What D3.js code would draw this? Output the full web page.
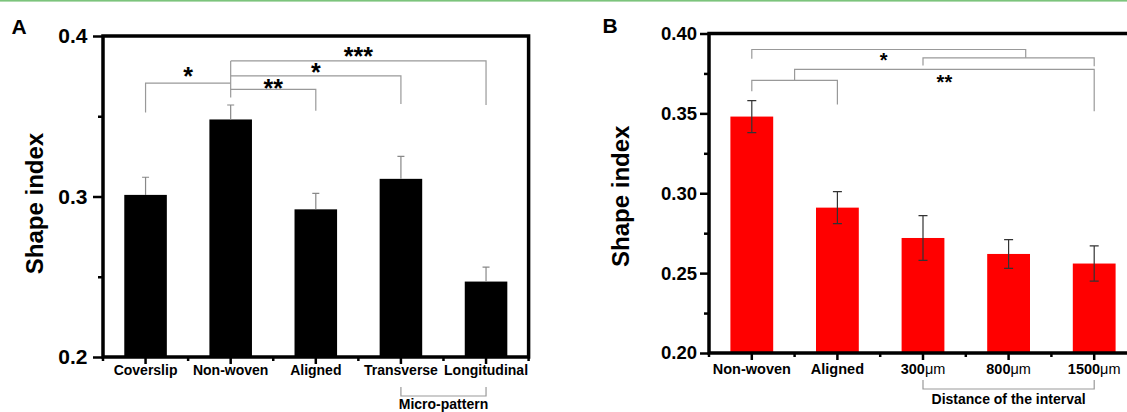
<!DOCTYPE html>
<html>
<head>
<meta charset="utf-8">
<script src="https://cdn.jsdelivr.net/npm/d3@7"></script>
<style>
  body { margin: 0; background: #fff; }
  svg { display: block; }
</style>
</head>
<body>
<div id="chart"></div>
<script>
// Painel A
const catsA = ["Coverslip", "Non-woven", "Aligned", "Transverse", "Longitudinal"];
const meanA = [0.301, 0.348, 0.292, 0.311, 0.247];
const errA = [0.011, 0.009, 0.010, 0.014, 0.009];
const ticksA = [0.2, 0.3, 0.4];
const minorA = [0.25, 0.35];

// Painel B
const catsB = ["Non-woven", "Aligned", "300μm", "800μm", "1500μm"];
const meanB = [0.348, 0.291, 0.272, 0.262, 0.256];
const errB = [0.010, 0.010, 0.014, 0.009, 0.011];
const ticksB = [0.20, 0.25, 0.30, 0.35, 0.40];
const minorB = [0.225, 0.275, 0.325, 0.375];

// significance brackets of A: all start at the Non-woven stem
const stemA = { at: "Non-woven", top: 0.3845, bottom: 0.3617 };
const sigA = [
  { to: "Coverslip", level: 0.3706, end: 0.3524, label: "*", labelAt: 0.3783 },
  { to: "Aligned", level: 0.3667, end: 0.3534, label: "**", labelAt: 0.3710 },
  { to: "Transverse", level: 0.3752, end: 0.3576, label: "*", labelAt: 0.3809 },
  { to: "Longitudinal", level: 0.3845, end: 0.3570, label: "***", labelAt: 0.3911 }
];

const FONT = "'Liberation Sans', Arial, Helvetica, sans-serif";
const W = 1127, H = 412;

const svg = d3.select("#chart").append("svg")
  .attr("width", W)
  .attr("height", H);

// faixa verde no topo
svg.append("rect")
  .attr("x", 0).attr("y", 0)
  .attr("width", W).attr("height", 1.6)
  .attr("fill", "#7cc47c");

function panel(o) {
  const x = d3.scaleBand().domain(o.cats).range([o.left, o.right])
    .paddingInner(0.5).paddingOuter(0.25);
  const y = d3.scaleLinear().domain([0.2, 0.4]).range([o.bottom, o.top]);
  const cx = c => x(c) + x.bandwidth() / 2;
  const g = svg.append("g");

  // barras
  g.append("g").selectAll("rect")
    .data(o.cats)
    .join("rect")
    .attr("x", c => x(c))
    .attr("width", x.bandwidth())
    .attr("y", (c, i) => y(o.mean[i]))
    .attr("height", (c, i) => y(0.2) - y(o.mean[i]))
    .attr("fill", o.color);

  // barras de erro
  const eb = g.append("g")
    .attr("stroke", o.errColor)
    .attr("stroke-width", 1.2)
    .attr("fill", "none");
  o.cats.forEach((c, i) => {
    const lo = o.upOnly ? o.mean[i] : o.mean[i] - o.err[i];
    const hi = o.mean[i] + o.err[i];
    const xc = cx(c);
    let p = `M${xc},${y(lo)}V${y(hi)}M${xc - o.cap / 2},${y(hi)}H${xc + o.cap / 2}`;
    if (!o.upOnly) p += `M${xc - o.cap / 2},${y(lo)}H${xc + o.cap / 2}`;
    eb.append("path").attr("d", p);
  });

  // eixo y
  const yAx = g.append("g")
    .attr("transform", `translate(${o.left},0)`)
    .call(d3.axisLeft(y).tickValues(o.ticks).tickFormat(d3.format(o.fmt))
      .tickSize(o.yTick).tickPadding(o.yPad));
  yAx.select(".domain").remove();
  yAx.selectAll("line").attr("stroke", "#000").attr("stroke-width", 2.5);
  yAx.selectAll("text")
    .style("font-family", FONT)
    .style("font-weight", "bold")
    .style("font-size", o.yFont + "px")
    .attr("fill", "#000");

  const yMin = g.append("g")
    .attr("transform", `translate(${o.left},0)`)
    .call(d3.axisLeft(y).tickValues(o.minor).tickFormat("").tickSize(5));
  yMin.select(".domain").remove();
  yMin.selectAll("line").attr("stroke", "#000").attr("stroke-width", 2.5);

  // eixo x
  const xAx = g.append("g")
    .attr("transform", `translate(0,${o.bottom})`)
    .call(d3.axisBottom(x).tickSize(7).tickPadding(o.xPad));
  xAx.select(".domain").remove();
  xAx.selectAll("line").attr("stroke", "#000").attr("stroke-width", 2.5);
  xAx.selectAll("text")
    .style("font-family", FONT)
    .style("font-weight", "bold")
    .style("font-size", o.xFont + "px")
    .attr("fill", "#000")
    .each(function(d) {
      if (d.endsWith("μm")) {
        const t = d3.select(this).text(null);
        t.append("tspan").text(d.slice(0, -2));
        t.append("tspan").style("font-weight", "normal").text("μm");
      }
    });

  // marcas menores entre as categorias
  const bounds = d3.range(o.cats.length + 1).map(i => o.left + i * x.step());
  g.append("g").selectAll("line")
    .data(bounds)
    .join("line")
    .attr("x1", d => d).attr("x2", d => d)
    .attr("y1", o.bottom).attr("y2", o.bottom + 4)
    .attr("stroke", "#000").attr("stroke-width", 2.5);

  // moldura
  g.append("rect")
    .attr("x", o.left).attr("y", o.top)
    .attr("width", o.right - o.left).attr("height", o.bottom - o.top)
    .attr("fill", "none")
    .attr("stroke", "#000")
    .attr("stroke-width", 3.5);

  // título do eixo y
  g.append("text")
    .attr("transform", `translate(${o.titleX},${(o.top + o.bottom) / 2 + o.titleDy}) rotate(-90)`)
    .attr("text-anchor", "middle")
    .style("font-family", FONT)
    .style("font-weight", "bold")
    .style("font-size", "24px")
    .text("Shape index");

  // letra do painel
  g.append("text")
    .attr("x", o.letterX).attr("y", o.letterY)
    .attr("text-anchor", "middle")
    .style("font-family", FONT)
    .style("font-weight", "bold")
    .style("font-size", "21px")
    .text(o.letter);

  // chave do grupo sob o eixo x
  const gb = o.group;
  const gy1 = o.bottom + gb.legTop, gy2 = o.bottom + gb.legBottom;
  g.append("path")
    .attr("d", `M${cx(gb.from)},${gy1}V${gy2}H${cx(gb.to)}V${gy1}`)
    .attr("fill", "none").attr("stroke", "#999").attr("stroke-width", 1.2);
  g.append("text")
    .attr("x", (cx(gb.from) + cx(gb.to)) / 2)
    .attr("y", o.bottom + gb.labelDy)
    .attr("text-anchor", "middle")
    .style("font-family", FONT)
    .style("font-weight", "bold")
    .style("font-size", "14px")
    .text(gb.label);

  return { x, y, cx, g };
}

const A = panel({
  cats: catsA, mean: meanA, err: errA, ticks: ticksA, minor: minorA, fmt: ".1f",
  left: 103, right: 528.6, top: 36, bottom: 357,
  color: "#000", errColor: "#888", upOnly: true, cap: 7,
  yTick: 10, yPad: 5.5, yFont: 21, xPad: 1.5, xFont: 14,
  titleX: 43, titleDy: 7, letter: "A", letterX: 19, letterY: 34,
  group: { from: "Transverse", to: "Longitudinal", label: "Micro-pattern", legTop: 30, legBottom: 39, labelDy: 51.5 }
});

const B = panel({
  cats: catsB, mean: meanB, err: errB, ticks: ticksB, minor: minorB, fmt: ".2f",
  left: 709, right: 1137, top: 33.5, bottom: 353,
  color: "#ff0000", errColor: "#333", upOnly: false, cap: 9,
  yTick: 9, yPad: 3, yFont: 18.5, xPad: 3.5, xFont: 14.5,
  titleX: 629, titleDy: 3, letter: "B", letterX: 610, letterY: 33,
  group: { from: "300μm", to: "1500μm", label: "Distance of the interval", legTop: 27, legBottom: 36, labelDy: 51 }
});

// colchetes de significância
function sigText(g, xv, yv, label, size) {
  g.append("text")
    .attr("x", xv).attr("y", yv + size * 0.58)
    .attr("text-anchor", "middle")
    .style("font-family", FONT)
    .style("font-weight", "bold")
    .style("font-size", size + "px")
    .text(label);
}

const brA = A.g.append("g").attr("fill", "none").attr("stroke", "#999").attr("stroke-width", 1.2);
brA.append("path").attr("d", `M${A.cx(stemA.at)},${A.y(stemA.top)}V${A.y(stemA.bottom)}`);
sigA.forEach(s => {
  brA.append("path")
    .attr("d", `M${A.cx(stemA.at)},${A.y(s.level)}H${A.cx(s.to)}V${A.y(s.end)}`);
  sigText(A.g, (A.cx(stemA.at) + A.cx(s.to)) / 2, A.y(s.labelAt), s.label, 25);
});

// B: brackets between a bar (or a sub-bracket) and another
function bracket(g, y, x1, x2, level, end1, end2) {
  g.append("path").attr("d", `M${x1},${y(end1)}V${y(level)}H${x2}V${y(end2)}`);
}
const brB = B.g.append("g").attr("fill", "none").attr("stroke", "#999").attr("stroke-width", 1.2);
const sigB = [
  { a: "300μm", b: "1500μm", level: 0.3848, endA: 0.3800, endB: 0.3795 },
  { a: "Non-woven", b: "Aligned", level: 0.3706, endA: 0.3639, endB: 0.3556 }
];
const sub1 = sigB[0], sub2 = sigB[1];
bracket(brB, B.y, B.cx(sub1.a), B.cx(sub1.b), sub1.level, sub1.endA, sub1.endB);
bracket(brB, B.y, B.cx(sub2.a), B.cx(sub2.b), sub2.level, sub2.endA, sub2.endB);

const join1 = B.cx(sub1.a) + 0.6 * (B.cx(sub1.b) - B.cx(sub1.a));
bracket(brB, B.y, B.cx("Non-woven"), join1, 0.3900, 0.3842, sub1.level);
sigText(B.g, (B.cx("Non-woven") + join1) / 2 - 5, B.y(0.3864), "*", 20);

const mid2 = (B.cx(sub2.a) + B.cx(sub2.b)) / 2;
bracket(brB, B.y, mid2, B.cx("1500μm"), 0.3775, sub2.level, 0.3514);
sigText(B.g, (mid2 + B.cx("1500μm")) / 2, B.y(0.3723), "**", 20);
</script>
</body>
</html>
